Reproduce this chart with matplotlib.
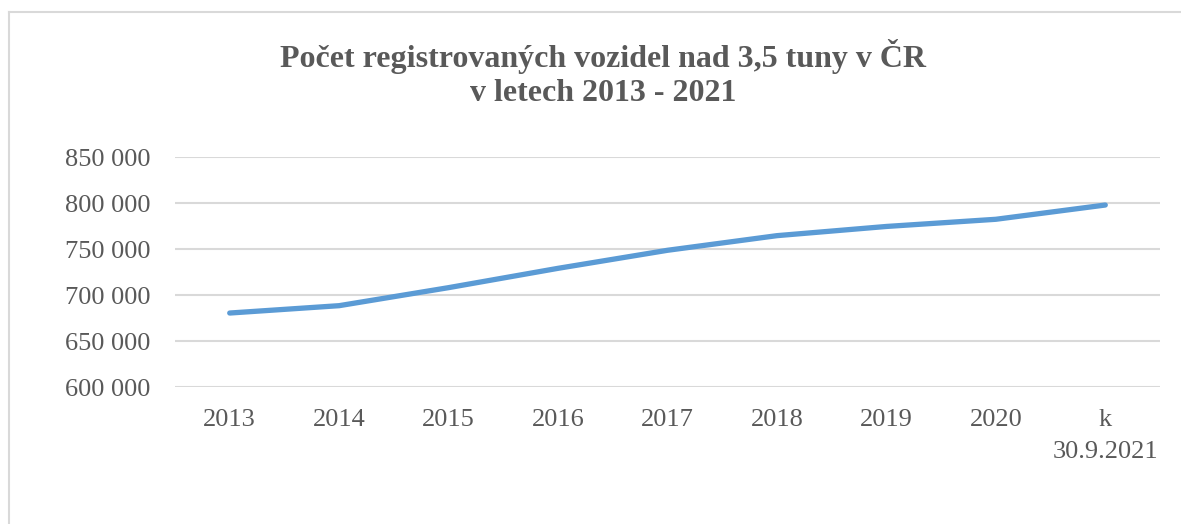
import matplotlib
matplotlib.use("Agg")
import matplotlib.pyplot as plt
from matplotlib.lines import Line2D
from matplotlib.ticker import FuncFormatter

# data
years = ["2013", "2014", "2015", "2016", "2017", "2018", "2019", "2020", "k\n30.9.2021"]
vehicles = [680400, 688400, 708000, 729000, 748600, 764500, 774500, 782300, 797800]
y_ticks = [600000, 650000, 700000, 750000, 800000, 850000]

grey_text = "#595959"
plt.rcParams['font.family'] = ['Liberation Serif', 'DejaVu Serif']

fig = plt.figure(figsize=(11.81, 5.24), dpi=100)
fig.patch.set_facecolor("white")

# chart border: only top and left edges are inside the picture
bx, by = 8.5 / 1181, 1 - 11.5 / 524
fig.lines.append(Line2D([bx, 1.0], [by, by], transform=fig.transFigure,
                        color="#D9D9D9", linewidth=1.5))
fig.lines.append(Line2D([bx, bx], [0.0, by], transform=fig.transFigure,
                        color="#D9D9D9", linewidth=1.5))

ax = fig.add_axes([175 / 1181, 1 - 387 / 524, (1160 - 175) / 1181, (387 - 157) / 524])
x = list(range(len(years)))
ax.plot(x, vehicles, color="#5B9BD5", linewidth=3.8, solid_capstyle="round",
        solid_joinstyle="round", zorder=3)

ax.set_xlim(-0.5, len(years) - 0.5)
ax.set_ylim(y_ticks[0], y_ticks[-1])
ax.set_yticks(y_ticks)
ax.yaxis.set_major_formatter(FuncFormatter(lambda v, p: f"{int(v):,}".replace(",", " ")))
ax.set_xticks(x)
ax.set_xticklabels(years, linespacing=1.6)

ax.grid(axis="y", color="#D9D9D9", linewidth=1.5, zorder=0)
for s in ax.spines.values():
    s.set_visible(False)
ax.tick_params(axis="both", length=0, labelsize=19, colors=grey_text)
ax.tick_params(axis="y", pad=17.5)
ax.tick_params(axis="x", pad=15.5)

fig.text(0.511, 1 - 73.5 / 524,
         "Počet registrovaných vozidel nad 3,5 tuny v ČR\nv letech 2013 - 2021",
         ha="center", va="center", fontsize=23, fontweight="bold",
         color=grey_text, linespacing=1.2)

fig.savefig("out.png", dpi=100, facecolor="white")
